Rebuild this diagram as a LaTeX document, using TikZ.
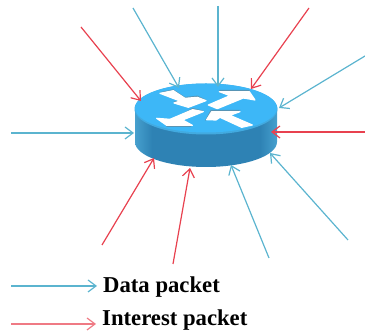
\documentclass[tikz,border=0pt]{standalone}
\usepackage{fontspec}
\setmainfont{Liberation Serif}
\usetikzlibrary{arrows.meta}
\definecolor{datablue}{HTML}{5BB4CF}
\definecolor{intred}{HTML}{E8414F}
\definecolor{toptop}{HTML}{3DB7F7}
\definecolor{sidemid}{HTML}{2E82B4}
\definecolor{sideedge}{HTML}{46A0CE}
\pgfdeclarehorizontalshading{bodyshade}{100bp}{color(0bp)=(sideedge); color(25bp)=(sideedge); color(31bp)=(sidemid); color(69bp)=(sidemid); color(75bp)=(sideedge); color(100bp)=(sideedge)}
\tikzset{
  pkt/.style={line width=1.2pt,-{Straight Barb[length=8pt,width=12pt,line width=1.2pt]}},
  datapkt/.style={pkt,draw=datablue},
  intpkt/.style={pkt,draw=intred},
  legendtext/.style={anchor=west,inner sep=0pt,font=\bfseries\fontsize{22.7pt}{24pt}\selectfont},
  whitearrow/.style={fill=white,draw=white,line width=1.2pt,line join=round}
}
\begin{document}
\begin{tikzpicture}[x=1pt,y=-1pt]
\useasboundingbox (0,0) rectangle (365,336);
% router body
\shade[shading=bodyshade]
  (135,108) -- (135,142) arc[start angle=180,end angle=360,x radius=71,y radius=-25] -- (277,108) -- cycle;
\fill[toptop!45!sideedge] (206,109) ellipse[x radius=71.5,y radius=25.5];
\fill[toptop] (206,108) ellipse[x radius=71,y radius=24.5];
% white arrows
\begin{scope}[shift={(120,70)},x=0.3333pt,y=-0.3333pt]
\fill[black!55,opacity=.5] (122,66) -- (160,58) -- (195,81) -- (232,77) -- (258,89) -- (200,108) -- (160,95) -- (178,91) -- cycle;
\fill[whitearrow] (120,70) -- (160,62) -- (195,85) -- (232,82) -- (258,92) -- (205,112) -- (162,99) -- (180,93) -- cycle;
\fill[black!55,opacity=.5] (298,60) -- (388,60) -- (392,70) -- (300,70) -- cycle;
\fill[whitearrow] (265,105) -- (330,77) -- (298,65) -- (388,65) -- (405,90) -- (370,84) -- (292,116) -- cycle;
\fill[black!55,opacity=.5] (218,114) -- (250,122) -- (190,150) -- (215,171) -- (140,171) -- (135,160) -- cycle;
\fill[whitearrow] (218,119) -- (250,125) -- (188,150) -- (217,166) -- (140,166) -- (110,145) -- (150,148) -- cycle;
\fill[black!55,opacity=.5] (255,152) -- (272,120) -- (362,120) -- (330,133) -- (300,135) -- cycle;
\fill[whitearrow] (260,149) -- (275,125) -- (360,125) -- (330,136) -- (397,165) -- (365,172) -- (300,142) -- (288,150) -- cycle;
\end{scope}
% endpoints
\coordinate (d1a) at (133,8);   \coordinate (d1b) at (179,88);
\coordinate (d2a) at (218,6);   \coordinate (d2b) at (218,87);
\coordinate (d3a) at (365,56);  \coordinate (d3b) at (279,108);
\coordinate (d4a) at (11,133);  \coordinate (d4b) at (134,133);
\coordinate (d5a) at (348,240); \coordinate (d5b) at (270,153);
\coordinate (d6a) at (269,258); \coordinate (d6b) at (231,165);
\coordinate (i1a) at (81,27);   \coordinate (i1b) at (141,101);
\coordinate (i2a) at (309,8);   \coordinate (i2b) at (251,89);
\coordinate (i3a) at (365,132); \coordinate (i3b) at (271,132);
\coordinate (i4a) at (102,245); \coordinate (i4b) at (154,158);
\coordinate (i5a) at (173,264); \coordinate (i5b) at (190,168);
\foreach \n in {1,...,6} \draw[datapkt] (d\n a) -- (d\n b);
\foreach \n in {1,...,5} \draw[intpkt] (i\n a) -- (i\n b);
% legend
\node[legendtext] (dl) at (103,287) {Data packet};
\node[legendtext] (il) at (102,320) {Interest packet};
\coordinate (ld) at (11,286);
\coordinate (li) at (11,324);
\coordinate (lde) at (97,286);
\coordinate (lie) at (96,324);
\draw[datapkt] (ld) -- (lde);
\draw[intpkt,draw=intred!70] (li) -- (lie);
\end{tikzpicture}
\end{document}
